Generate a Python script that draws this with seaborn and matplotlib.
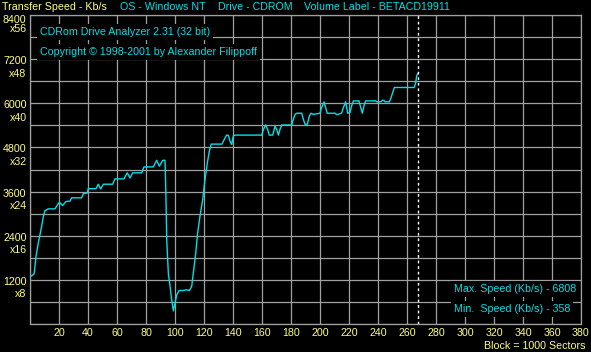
import numpy as np
import pandas as pd
import matplotlib
matplotlib.use('Agg')
import matplotlib.pyplot as plt
import seaborn as sns

# block number (x1000 sectors) and transfer speed (Kb/s)
block = [0, 2.8, 3.4, 4.1, 5.7, 6.9, 8.0, 9.2, 10.3, 12.6, 17.2, 20.2, 22.5, 24.8,
         27.6, 28.7, 35.6, 36.8, 39.5, 40.2, 45.5, 47.1, 48.7, 50.6, 57.0, 58.6,
         64.8, 67.1, 69.0, 70.8, 77.0, 78.6, 85.0, 87.4, 89.2, 91.5, 93.1, 93.6,
         94.3, 95.4, 96.6, 97.7, 98.9, 100.0, 101.2, 102.8, 105.7, 108.0, 109.9,
         111.5, 112.6, 114.3, 115.6, 117.2, 119.1, 120.7, 122.3, 123.7, 125.0,
         132.4, 134.0, 135.6, 136.8, 137.9, 139.1, 140.2, 141.4, 159.8, 161.0,
         162.5, 163.9, 165.0, 167.4, 169.0, 170.1, 171.3, 172.4, 173.6, 180.5,
         181.6, 182.8, 184.0, 187.4, 188.5, 189.7, 191.3, 192.6, 193.8, 195.4,
         200.0, 201.1, 202.8, 203.9, 205.0, 210.3, 211.5, 214.9, 216.1, 217.7,
         219.1, 220.7, 221.8, 223.0, 226.9, 228.1, 229.2, 230.3, 231.5, 238.4,
         239.1, 242.0, 243.0, 244.1, 244.8, 247.8, 249.0, 250.1, 251.3, 265.0,
         266.0, 266.7, 267.4]
speed = [1280, 1360, 1550, 1830, 2200, 2430, 2650, 2920, 3080, 3130, 3130, 3310, 3220, 3330,
         3340, 3430, 3430, 3545, 3560, 3680, 3680, 3800, 3670, 3800, 3800, 3945,
         3945, 4110, 3970, 4110, 4110, 4270, 4270, 4450, 4290, 4450, 4450, 3745,
         2290, 1380, 1020, 655, 358, 565, 790, 910, 910, 930, 910,
         1020, 1380, 1925, 2470, 2925, 3380, 3930, 4380, 4700, 4890,
         4890, 5020, 5135, 5130, 4975, 4880, 5110, 5135, 5135, 5290,
         5410, 5290, 5135, 5135, 5380, 5290, 5135, 5290, 5410, 5410,
         5565, 5700, 5730, 5730, 5565, 5430, 5430, 5650, 5730, 5700,
         5730, 5880, 6040, 5880, 5730, 5730, 5690, 5730, 5880, 6040,
         5730, 5750, 5930, 6065, 6065, 5880, 5730, 5930, 6065, 6065,
         6040, 6040, 6080, 6080, 6040, 6040, 6150, 6290, 6430, 6430,
         6560, 6745, 6808]

y_ticks = [1200, 2400, 3600, 4800, 6000, 7200, 8400]
x_ticks = list(range(20, 381, 20))
max_speed = 6808
min_speed = 358
end_block = 267.5

W, H = 591, 352
yellow = '#ffff80'
cyan = '#00e0e8'
grey = '#a0a0a0'
plt.rcParams['font.family'] = ['Liberation Sans', 'DejaVu Sans']
fs = 7.7

def fx(x):
    return x / W

def fy(y):
    return 1 - y / H

fig = plt.figure(figsize=(W / 100, H / 100), dpi=100, facecolor='black')
ax = fig.add_axes([fx(30), fy(324), (581 - 30) / W, (324 - 15) / H])
ax.set_facecolor('black')

df = pd.DataFrame({'block': block, 'speed': speed})
sns.lineplot(data=df, x='block', y='speed', ax=ax, color=cyan, lw=1,
             estimator=None, sort=False, zorder=3)
ax.axvline(end_block, color='white', lw=1, ls=(0, (2, 2)), zorder=4)

ax.set_xlim(0, 380)
ax.set_ylim(0, 8400)
ax.set_xticks(range(0, 381, 20))
ax.set_yticks(range(0, 8401, 600))
ax.grid(True, color=grey, lw=0.9)
ax.set_axisbelow(True)
ax.tick_params(length=0, labelleft=False, labelbottom=False)
for s in ax.spines.values():
    s.set_color(grey)
    s.set_linewidth(0.9)
ax.set_xlabel('')
ax.set_ylabel('')

# axis labels
for v in x_ticks:
    px = 30 + v / 380 * 551
    fig.text(fx(px), fy(333), str(v), color=yellow, fontsize=fs, ha='center', va='center')
for v in y_ticks:
    py = 324 - v / 8400 * 309
    top = py + (5 if v == 8400 else 2)
    fig.text(fx(26.5), fy(top), str(v), color=yellow, fontsize=fs, ha='right', va='center')
    fig.text(fx(26.5), fy(py + 14.5), 'x%d' % (v // 150), color=yellow, fontsize=fs,
             ha='right', va='center')
fig.text(fx(585), fy(346), 'Block = 1000 Sectors', color=yellow, fontsize=fs,
         ha='right', va='center')

# header
fig.text(fx(2), fy(7), 'Transfer Speed - Kb/s', color=yellow, fontsize=fs, va='center')
fig.text(fx(120), fy(7), 'OS - Windows NT', color=cyan, fontsize=fs, va='center')
fig.text(fx(218), fy(7), 'Drive - CDROM', color=cyan, fontsize=fs, va='center')
fig.text(fx(304), fy(7), 'Volume Label - BETACD19911', color=cyan, fontsize=fs, va='center')

box = dict(facecolor='black', edgecolor='none', pad=2)
fig.text(fx(40), fy(32), 'CDRom Drive Analyzer 2.31 (32 bit)', color=cyan, fontsize=fs,
         va='center', bbox=box, zorder=5)
fig.text(fx(40), fy(52), 'Copyright \u00a9 1998-2001 by Alexander Filippoff', color=cyan,
         fontsize=fs, va='center', bbox=box, zorder=5)
fig.text(fx(454), fy(289), 'Max. Speed (Kb/s) - %d' % max_speed, color=cyan, fontsize=fs,
         va='center', bbox=box, zorder=5)
fig.text(fx(454), fy(309), 'Min.  Speed (Kb/s) - %d' % min_speed, color=cyan, fontsize=fs,
         va='center', bbox=box, zorder=5)

fig.savefig('out.png', dpi=100, facecolor='black')
